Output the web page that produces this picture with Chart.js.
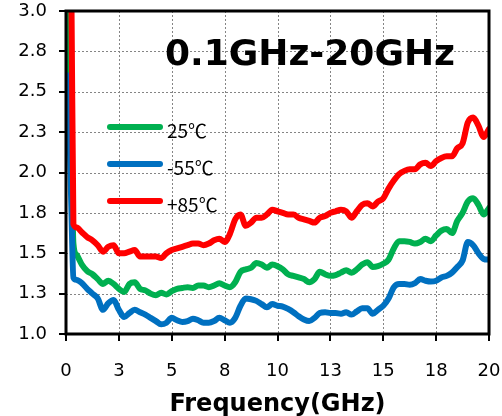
<!DOCTYPE html>
<html><head><meta charset="utf-8">
<script src="https://cdn.jsdelivr.net/npm/chart.js@4"></script>
<style>html,body{margin:0;padding:0;background:#fff}#wrap{width:502px;height:416px}</style>
</head><body><div id="wrap"><canvas id="c" width="502" height="416"></canvas></div>
<script>
const freq = [0.1,0.25,0.35,0.5,0.75,1,1.25,1.5,1.75,2,2.25,2.5,2.75,3,3.25,3.5,3.75,4,4.25,4.5,4.75,5,5.25,5.5,5.75,6,6.25,6.5,6.75,7,7.25,7.5,7.75,8,8.25,8.5,8.75,9,9.25,9.5,9.75,10,10.25,10.5,10.75,11,11.25,11.5,11.75,12,12.25,12.5,12.75,13,13.25,13.5,13.75,14,14.25,14.5,14.75,15,15.25,15.5,15.75,16,16.25,16.5,16.75,17,17.25,17.5,17.75,18,18.25,18.5,18.75,19,19.25,19.5,19.75,20];
const vswr25 = [3.2,2.2,1.56,1.49,1.43,1.39,1.37,1.34,1.31,1.33,1.31,1.28,1.26,1.31,1.32,1.28,1.27,1.25,1.24,1.255,1.245,1.265,1.28,1.285,1.29,1.285,1.30,1.30,1.29,1.30,1.315,1.30,1.29,1.32,1.385,1.40,1.41,1.44,1.43,1.41,1.43,1.42,1.40,1.37,1.36,1.35,1.34,1.32,1.34,1.385,1.37,1.36,1.365,1.38,1.395,1.38,1.40,1.43,1.445,1.415,1.42,1.435,1.46,1.53,1.575,1.575,1.57,1.56,1.57,1.59,1.575,1.61,1.64,1.65,1.625,1.70,1.75,1.82,1.84,1.80,1.74,1.78];
const vswrMinus55 = [2.6,1.8,1.35,1.335,1.315,1.28,1.25,1.22,1.15,1.19,1.21,1.15,1.105,1.13,1.15,1.135,1.12,1.10,1.08,1.06,1.07,1.10,1.085,1.075,1.08,1.095,1.085,1.07,1.07,1.08,1.10,1.085,1.07,1.10,1.175,1.22,1.215,1.205,1.185,1.165,1.185,1.175,1.17,1.155,1.135,1.11,1.09,1.08,1.10,1.13,1.135,1.13,1.13,1.125,1.135,1.12,1.14,1.16,1.16,1.125,1.15,1.175,1.22,1.29,1.31,1.31,1.305,1.315,1.34,1.33,1.325,1.33,1.35,1.36,1.38,1.415,1.455,1.57,1.55,1.50,1.465,1.46];
const vswrPlus85 = [3.6,3.2,1.68,1.66,1.63,1.60,1.58,1.55,1.51,1.54,1.55,1.50,1.50,1.51,1.52,1.48,1.48,1.48,1.48,1.47,1.50,1.52,1.53,1.54,1.55,1.56,1.56,1.55,1.56,1.58,1.59,1.57,1.62,1.71,1.74,1.67,1.69,1.72,1.72,1.74,1.77,1.76,1.75,1.74,1.74,1.72,1.71,1.70,1.69,1.72,1.73,1.75,1.76,1.77,1.76,1.72,1.76,1.80,1.81,1.79,1.82,1.84,1.90,1.95,1.99,2.01,2.02,2.02,2.05,2.06,2.04,2.07,2.09,2.10,2.10,2.15,2.18,2.31,2.34,2.29,2.22,2.27];
const seriesLabels = ['25℃', '-55℃', '+85℃'];
const seriesColors = ['#00B050', '#0070C0', '#FF0000'];
const xTickLabels = ['0','3','5','8','10','13','15','18','20'];
const yTickLabels = ['1.0','1.3','1.5','1.8','2.0','2.3','2.5','2.8','3.0'];
const chartTitle = '0.1GHz-20GHz';
const xAxisTitle = 'Frequency(GHz)';

const seriesValues = [vswr25, vswrMinus55, vswrPlus85];
const drawOrder = [3, 2, 1];

const datasets = seriesValues.map((vals, i) => ({
  label: seriesLabels[i],
  data: freq.map((f, j) => ({x: f, y: vals[j]})),
  borderColor: seriesColors[i],
  backgroundColor: seriesColors[i],
  borderWidth: 6,
  pointRadius: 0,
  fill: false,
  cubicInterpolationMode: 'monotone',
  borderJoinStyle: 'round',
  borderCapStyle: 'round',
  clip: 0,
  order: drawOrder[i]
}));

const decor = {
  id: 'decor',
  beforeDatasetsDraw(chart) {
    const {ctx, chartArea: a} = chart;
    const n = xTickLabels.length - 1;
    const m = yTickLabels.length - 1;
    ctx.save();
    ctx.fillStyle = '#858585';
    for (let i = 1; i < n; i++) {
      const px = Math.round(a.left + (a.right - a.left) * i / n);
      for (let yy = Math.round(a.top); yy < a.bottom; yy += 4) ctx.fillRect(px, yy, 1, 2);
    }
    for (let j = 1; j < m; j++) {
      const py = Math.round(a.bottom - (a.bottom - a.top) * j / m);
      for (let xx = Math.round(a.left); xx < a.right; xx += 4) ctx.fillRect(xx, py, 2, 1);
    }
    ctx.restore();
  },
  afterDatasetsDraw(chart) {
    const {ctx, chartArea: a} = chart;
    const n = xTickLabels.length - 1;
    const m = yTickLabels.length - 1;
    ctx.save();
    ctx.strokeStyle = '#000';
    ctx.lineWidth = 3;
    ctx.setLineDash([]);
    ctx.strokeRect(a.left, a.top, a.right - a.left, a.bottom - a.top);
    ctx.fillStyle = '#000';
    for (let i = 0; i <= n; i++) {
      const px = Math.round(a.left + (a.right - a.left) * i / n);
      ctx.fillRect(px - 1, a.bottom, 2, 7);
    }
    for (let j = 0; j <= m; j++) {
      const py = Math.round(a.bottom - (a.bottom - a.top) * j / m);
      ctx.fillRect(a.left - 7, py - 1, 7, 2);
    }
    ctx.restore();
  },
  afterDraw(chart) {
    const ctx = chart.ctx;
    ctx.save();
    ctx.fillStyle = '#000';
    ctx.font = 'bold 36px "DejaVu Sans"';
    ctx.textAlign = 'center';
    ctx.textBaseline = 'alphabetic';
    ctx.fillText(chartTitle, 310, 65);
    chart.data.datasets.forEach((ds, i) => {
      const y = 127 + i * 37;
      ctx.strokeStyle = ds.borderColor;
      ctx.lineWidth = 6;
      ctx.lineCap = 'round';
      ctx.beginPath();
      ctx.moveTo(110, y);
      ctx.lineTo(160, y);
      ctx.stroke();
      ctx.fillStyle = '#000';
      ctx.font = '19px "Noto Sans CJK JP"';
      ctx.textAlign = 'left';
      ctx.fillText(ds.label, 167, y + 11);
    });
    ctx.restore();
  }
};

Chart.defaults.font.family = '"DejaVu Sans"';
Chart.defaults.color = '#000';

new Chart(document.getElementById('c'), {
  type: 'line',
  data: {datasets},
  plugins: [decor],
  options: {
    responsive: false,
    animation: false,
    layout: {padding: {left: 0, right: 13, top: 11, bottom: 0}},
    plugins: {legend: {display: false}, tooltip: {enabled: false}, title: {display: false}},
    scales: {
      x: {
        type: 'linear', min: 0, max: 20,
        afterFit(s) { s.height = 82; s.paddingLeft = 0; s.paddingRight = 0; },
        ticks: {stepSize: 2.5, autoSkip: false, maxRotation: 0, padding: 20,
          font: {size: 18}, color: '#000',
          callback: (v, i) => xTickLabels[i]},
        grid: {display: true, drawOnChartArea: false, drawTicks: true, tickLength: 7, color: 'rgba(0,0,0,0)'},
        border: {display: false},
        title: {display: true, text: xAxisTitle, font: {size: 24, weight: 'bold', lineHeight: 1}, padding: {top: 0, bottom: -1}, color: '#000'}
      },
      y: {
        type: 'linear', min: 1, max: 3,
        afterFit(s) { s.width = 66; s.paddingTop = 0; s.paddingBottom = 0; },
        ticks: {stepSize: 0.25, autoSkip: false, padding: 12, font: {size: 18}, color: '#000',
          callback: (v, i) => yTickLabels[i]},
        grid: {display: true, drawOnChartArea: false, drawTicks: true, tickLength: 7, color: 'rgba(0,0,0,0)'},
        border: {display: false}
      }
    }
  }
});
</script>
</body></html>
